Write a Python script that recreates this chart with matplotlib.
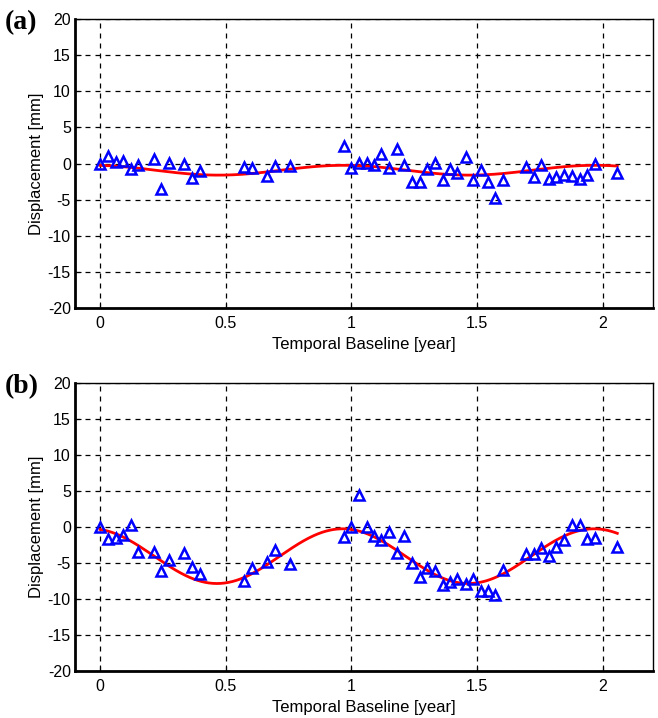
import numpy as np
import matplotlib
matplotlib.use("Agg")
import matplotlib.pyplot as plt

# Acquisition epochs (years since first acquisition)
epochs = [0.0, 0.031, 0.063, 0.091, 0.122, 0.152, 0.213, 0.242, 0.273, 0.334,
          0.365, 0.396, 0.574, 0.605, 0.664, 0.696, 0.755, 0.969, 1.0, 1.03,
          1.06, 1.088, 1.119, 1.15, 1.18, 1.211, 1.241, 1.271, 1.302, 1.331,
          1.363, 1.392, 1.422, 1.454, 1.485, 1.515, 1.545, 1.572, 1.603, 1.695,
          1.726, 1.755, 1.785, 1.816, 1.847, 1.876, 1.908, 1.938, 1.969, 2.058]

# Measured displacement [mm]
disp_a = [0, 1.04, 0.25, 0.3, -0.76, -0.25, 0.62, -3.5, 0.07, -0.12,
          -1.96, -1.04, -0.48, -0.58, -1.69, -0.3, -0.39, 2.42, -0.62, 0.11,
          0.11, -0.16, 1.27, -0.67, 1.96, -0.16, -2.6, -2.6, -0.8, 0.11,
          -2.28, -0.8, -1.27, 0.86, -2.33, -0.94, -2.56, -4.73, -2.28, -0.48,
          -1.91, -0.25, -2.19, -1.83, -1.64, -1.69, -2.19, -1.55, -0.03, -1.27]
disp_b = [0, -1.67, -1.53, -1.17, 0.32, -3.47, -3.5, -6.07, -4.54, -3.61,
          -5.56, -6.49, -7.55, -5.7, -4.9, -3.24, -5.14, -1.39, 0, 4.44,
          -0.05, -1.29, -1.85, -0.74, -3.66, -1.29, -5.05, -7.0, -5.7, -6.07,
          -8.06, -7.6, -7.22, -7.92, -7.27, -8.82, -8.86, -9.42, -5.93, -3.75,
          -3.7, -2.87, -4.08, -2.78, -1.81, 0.22, 0.22, -1.67, -1.49, -2.83]

# Seasonal model parameters: offset [mm], amplitude [mm], peak epoch [year]
season_a = (-0.93, 0.68, 0.97)
season_b = (-4.05, 3.80, 0.965)

xticks = [0, 0.5, 1, 1.5, 2]
xticklabels = ["0", "0.5", "1", "1.5", "2"]
yticks = [-20, -15, -10, -5, 0, 5, 10, 15, 20]

plt.rcParams["font.family"] = ["Liberation Sans", "DejaVu Sans"]
plt.rcParams["axes.unicode_minus"] = False

fig = plt.figure(figsize=(6.58, 7.18), dpi=100)
W, H = 658, 718
boxes = [(75, 19, 653, 308), (75, 383, 653, 671)]
panels = [("(a)", disp_a, season_a), ("(b)", disp_b, season_b)]

for (x0, y0, x1, y1), (tag, disp, season) in zip(boxes, panels):
    ax = fig.add_axes([x0 / W, 1 - y1 / H, (x1 - x0) / W, (y1 - y0) / H])
    ax.set_xlim(-0.1, 2.2)
    ax.set_ylim(-20, 20)
    ax.set_xticks(xticks)
    ax.set_xticklabels(xticklabels)
    ax.set_yticks(yticks)
    ax.grid(True, color="black", linestyle=(0, (4, 4)), linewidth=0.9)
    ax.set_axisbelow(True)
    ax.tick_params(direction="in", length=4, labelsize=11.5, width=0.8,
                   top=False, right=False)
    ax.tick_params(axis="x", pad=6)
    ax.tick_params(axis="y", pad=3)
    for side in ("left", "bottom"):
        ax.spines[side].set_linewidth(2.0)
    for side in ("top", "right"):
        ax.spines[side].set_linewidth(1.0)

    off, amp, peak = season
    t = np.linspace(epochs[0], epochs[-1], 400)
    ax.plot(t, off + amp * np.cos(2 * np.pi * (t - peak)), color="red",
            linewidth=2, zorder=3)
    ax.plot(epochs, disp, linestyle="none", marker="^", markersize=7,
            markerfacecolor="none", markeredgecolor="blue",
            markeredgewidth=1.8, zorder=4)

    ax.set_xlabel("Temporal Baseline [year]", fontsize=12, labelpad=4)
    ax.set_ylabel("Displacement [mm]", fontsize=12, labelpad=3)
    fig.text(5 / W, 1 - (y0 + 4) / H, tag, fontsize=20, fontweight="bold",
             family="Liberation Serif", ha="left", va="center")

fig.savefig("out.png", dpi=100)
